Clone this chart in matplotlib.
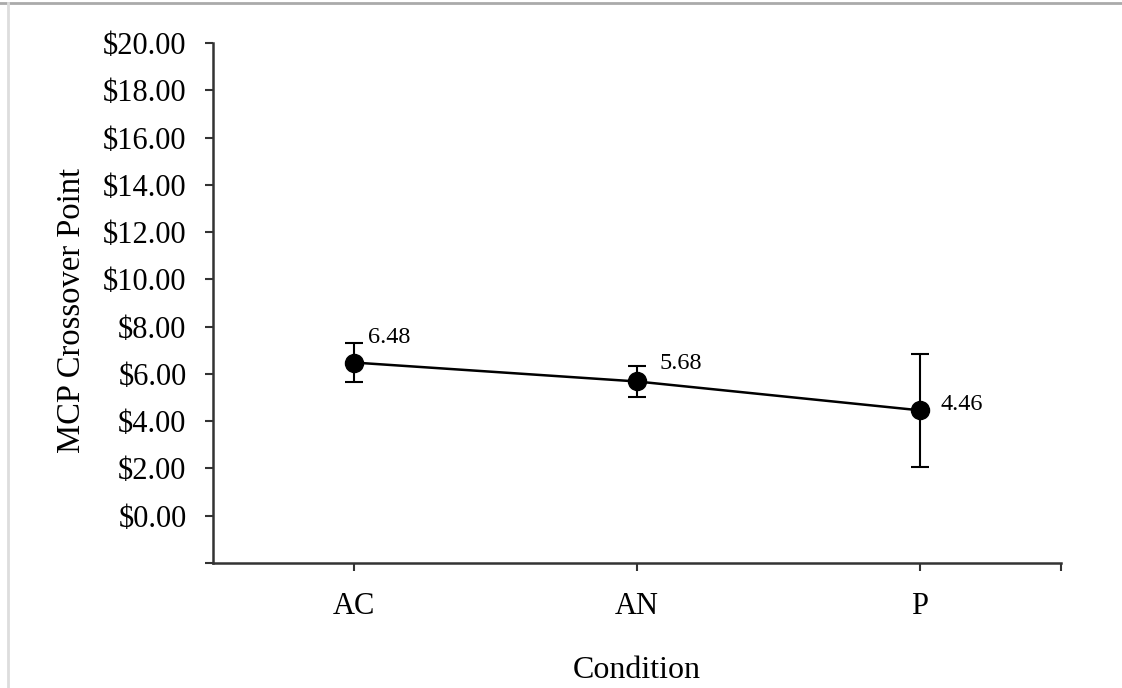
import numpy as np
import matplotlib
matplotlib.use("Agg")
import matplotlib.pyplot as plt
from matplotlib.lines import Line2D

plt.rcParams['font.family'] = ['Liberation Serif', 'DejaVu Serif']

# data
conditions = ["AC", "AN", "P"]
means = [6.48, 5.68, 4.46]
errors = [0.84, 0.65, 2.4]
labels = ["6.48", "5.68", "4.46"]
label_offsets = [(10, 18), (16, 13), (15, 4)]  # points

fig = plt.figure(figsize=(11.22, 6.88), dpi=100)
ax = fig.add_axes([0.1898, 0.1817, 0.9456 - 0.1898, 0.9375 - 0.1817])

x = np.arange(len(conditions))
ax.errorbar(x, means, yerr=errors, color="black", lw=1.8, marker="o",
            markersize=13, elinewidth=1.5, capsize=6.5, capthick=1.5)

for xi, yi, lab, off in zip(x, means, labels, label_offsets):
    ax.annotate(lab, (xi, yi), xytext=off, textcoords="offset points",
                fontsize=17.5, va="center", ha="left")

ax.set_xlim(-0.5, 2.5)
ax.set_ylim(-2, 20)
ax.set_xticks(x)
ax.set_xticklabels(conditions, fontsize=22)
ax.set_xticks([2.5], minor=True)
yt = np.arange(-2, 21, 2)
ax.set_yticks(yt)
ax.set_yticklabels(["" if v < 0 else "${:.2f}".format(v) for v in yt], fontsize=22)
ax.tick_params(axis="both", which="both", direction="out", length=6, width=1.5,
               color="#333333")
ax.tick_params(axis="x", pad=15)
ax.tick_params(axis="y", pad=13)

for side in ["top", "right"]:
    ax.spines[side].set_visible(False)
for side in ["left", "bottom"]:
    ax.spines[side].set_linewidth(1.8)
    ax.spines[side].set_color("#333333")

ax.set_ylabel("MCP Crossover Point", fontsize=23.5)
ax.yaxis.set_label_coords(-0.1486, 0.485)
ax.set_xlabel("Condition", fontsize=23, labelpad=25)

# light gray frame at top and left like the screenshot
fig.add_artist(Line2D([0, 1], [1 - 3 / 688] * 2, color="#aaaaaa", lw=2,
                      transform=fig.transFigure))
fig.add_artist(Line2D([8 / 1122] * 2, [0, 1 - 3 / 688], color="#dddddd", lw=2,
                      transform=fig.transFigure))

fig.savefig("out.png", dpi=100)
